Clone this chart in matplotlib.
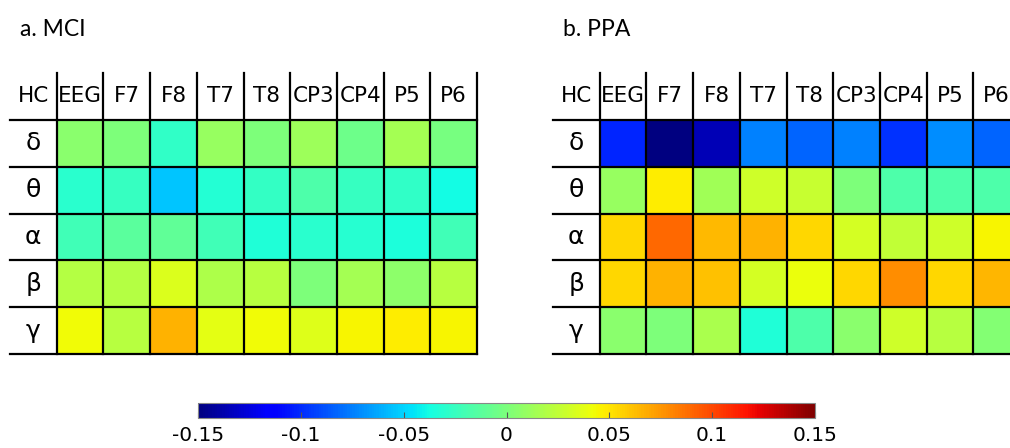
import numpy as np
import matplotlib
matplotlib.use("Agg")
import matplotlib.pyplot as plt

# channels / bands
channels = ["EEG", "F7", "F8", "T7", "T8", "CP3", "CP4", "P5", "P6"]
bands = ["δ", "θ", "α", "β", "γ"]

# MCI vs HC differences
mci = np.array([
    [0.005, 0.000, -0.028, 0.010, 0.000, 0.012, -0.005, 0.015, -0.002],
    [-0.030, -0.025, -0.054, -0.032, -0.026, -0.017, -0.025, -0.028, -0.038],
    [-0.022, -0.012, -0.010, -0.022, -0.033, -0.030, -0.031, -0.034, -0.022],
    [0.020, 0.020, 0.035, 0.018, 0.022, 0.000, 0.015, 0.006, 0.022],
    [0.043, 0.022, 0.066, 0.038, 0.043, 0.036, 0.045, 0.047, 0.045],
])

# PPA vs HC differences
ppa = np.array([
    [-0.101, -0.150, -0.135, -0.074, -0.083, -0.075, -0.098, -0.071, -0.083],
    [0.010, 0.047, 0.014, 0.030, 0.028, 0.000, -0.017, -0.017, -0.017],
    [0.054, 0.090, 0.064, 0.066, 0.054, 0.032, 0.025, 0.030, 0.045],
    [0.055, 0.066, 0.062, 0.032, 0.040, 0.054, 0.078, 0.055, 0.065],
    [0.005, 0.000, 0.017, -0.033, -0.017, 0.005, 0.030, 0.022, 0.003],
])

W, H = 1010, 448
fig = plt.figure(figsize=(W / 100, H / 100), dpi=100)

def px_axes(left, top, right, bottom):
    return fig.add_axes([left / W, 1 - bottom / H, (right - left) / W, (bottom - top) / H])

def draw_table(ax, data):
    ncol = len(channels)
    nrow = len(bands)
    mesh = ax.pcolormesh(np.arange(1, ncol + 2), np.arange(1, nrow + 2), data,
                         cmap="jet", vmin=-0.15, vmax=0.15)
    ax.set_xlim(0, ncol + 1)
    ax.set_ylim(nrow + 1, 0)
    ax.axis("off")
    for y in range(1, nrow + 2):
        ax.plot([0, ncol + 1], [y, y], color="black", lw=1.6, clip_on=False)
    for x in range(1, ncol + 2):
        ax.plot([x, x], [0, nrow + 1], color="black", lw=1.6, clip_on=False)
    ax.text(0.5, 0.5, "HC", ha="center", va="center", fontsize=15.5)
    for i, ch in enumerate(channels):
        ax.text(i + 1.5, 0.5, ch, ha="center", va="center", fontsize=15.5)
    for j, b in enumerate(bands):
        ax.text(0.5, j + 1.5, b, ha="center", va="center", fontsize=18)
    return mesh

ax1 = px_axes(10, 73, 477, 354)
mesh = draw_table(ax1, mci)
ax2 = px_axes(553, 73, 1020, 354)
draw_table(ax2, ppa)

fig.text(20 / W, 1 - 29 / H, "a. MCI", fontsize=16.5, family="Lato", va="center")
fig.text(563 / W, 1 - 29 / H, "b. PPA", fontsize=16.5, family="Lato", va="center")

cax = px_axes(198, 403, 815, 418)
cb = fig.colorbar(mesh, cax=cax, orientation="horizontal")
cb.set_ticks([-0.15, -0.1, -0.05, 0, 0.05, 0.1, 0.15])
cb.set_ticklabels(["-0.15", "-0.1", "-0.05", "0", "0.05", "0.1", "0.15"])
cax.tick_params(direction="in", length=4, width=0.8, color="#555555", labelsize=14.5, pad=6)
cb.outline.set_edgecolor("#888888")
cb.outline.set_linewidth(0.8)

fig.savefig("out.png", dpi=100)
